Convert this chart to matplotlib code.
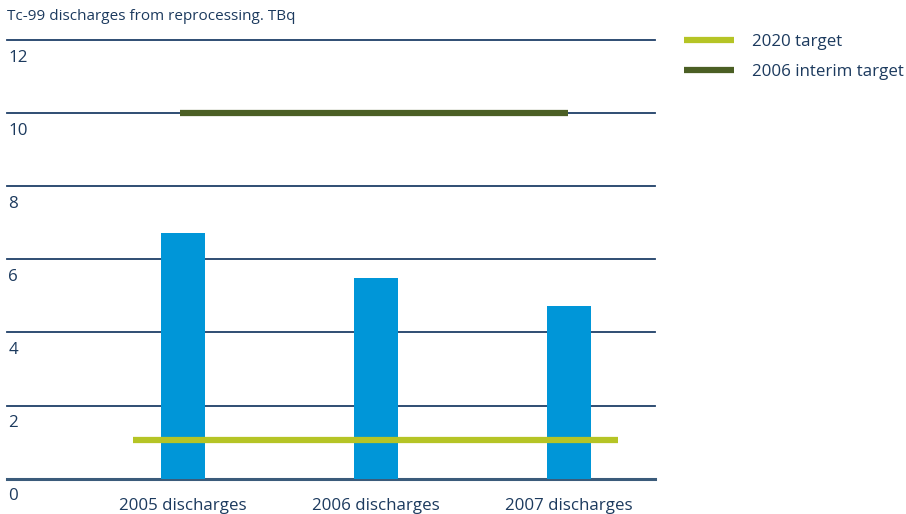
import matplotlib.pyplot as plt
from matplotlib.transforms import offset_copy

# Tc-99 discharges, TBq
categories = ['2005 discharges', '2006 discharges', '2007 discharges']
discharges = [6.72, 5.49, 4.72]
target_2020 = 1.05
interim_2006 = 10.0
y_ticks = [0, 2, 4, 6, 8, 10, 12]

text_color = '#1c3a5e'
grid_color = '#1f3f68'
bar_color = '#0096d8'
target_color = '#b5c425'
interim_color = '#4b5f24'

plt.rcParams['font.family'] = ['Open Sans', 'DejaVu Sans']
plt.rcParams['font.size'] = 12.2

fig = plt.figure(figsize=(9.06, 5.14), dpi=100)
ax = fig.add_axes([0.0077, 0.0687, 0.7153, 0.8535])

x = list(range(len(categories)))
ax.bar(x, discharges, width=0.228, color=bar_color, zorder=2)

# target lines
ax.plot([-0.257, 2.252], [target_2020] * 2, color=target_color, lw=4.5,
        solid_capstyle='butt', zorder=3, label='2020 target')
ax.plot([-0.015, 1.995], [interim_2006] * 2, color=interim_color, lw=4.5,
        solid_capstyle='butt', zorder=3, label='2006 interim target')

ax.set_xlim(-0.912, 2.446)
ax.set_ylim(0, 12)

# horizontal rules with the value written underneath at the left
for t in y_ticks:
    if t == 0:
        ax.axhline(t, color='#3b5b7a', lw=2.2, zorder=1, clip_on=False)
    else:
        ax.axhline(t, color=grid_color, lw=1.3, zorder=1, clip_on=False)
    trans = offset_copy(ax.get_yaxis_transform(), fig=fig, x=1, y=-7, units='points')
    ax.text(0, t, str(t), transform=trans, ha='left', va='top',
            color=text_color)

for s in ax.spines.values():
    s.set_visible(False)
ax.set_yticks([])
ax.set_xticks(x)
ax.set_xticklabels(categories, color=text_color)
ax.tick_params(axis='x', length=0, pad=14)

fig.text(0.0077, 0.968, 'Tc-99 discharges from reprocessing. TBq',
         ha='left', va='center', color=text_color, fontsize=11)

leg = fig.legend(loc='upper left', bbox_to_anchor=(0.748, 0.948), frameon=False,
                 handlelength=2.9, handletextpad=1.1, labelspacing=0.85,
                 borderaxespad=0)
for txt in leg.get_texts():
    txt.set_color(text_color)

fig.savefig('out.png', dpi=100)
plt.close(fig)
